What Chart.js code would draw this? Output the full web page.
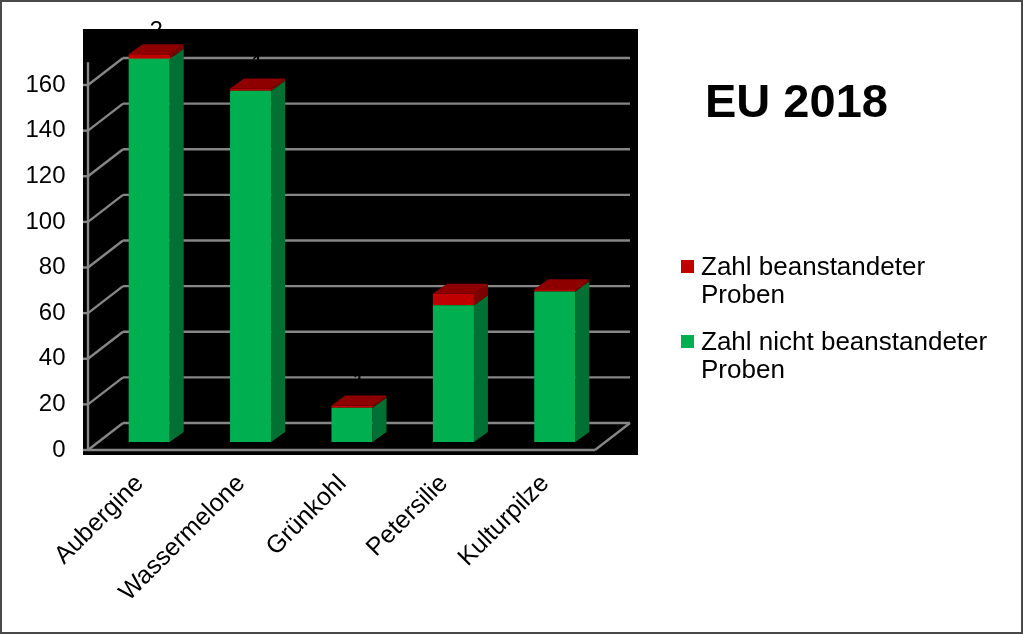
<!DOCTYPE html>
<html lang="de">
<head>
  <meta charset="UTF-8">
  <title>EU 2018</title>
  <style>
    body { margin: 0; background: #fff; font-family: "Liberation Sans", Arial, sans-serif; }
    #wrap { position: relative; width: 1023px; height: 635px; overflow: hidden; }
    #chart { position: absolute; left: 0; top: 0; }
    #frame { position: absolute; left: 0; top: 0; width: 1023px; height: 634px; box-sizing: border-box; border: 2px solid #4a4a4a; pointer-events: none; }
    #title { position: absolute; left: 705px; top: 77px; font-size: 47px; font-weight: bold; line-height: 1; color: #000; }
    #legend { position: absolute; left: 681px; top: 252px; }
    .item { position: relative; padding-left: 20px; width: 310px; font-size: 26px; line-height: 28px; color: #000; margin-bottom: 19px; }
    .item span { position: absolute; left: 0; top: 8px; width: 13px; height: 13px; }
  </style>
  <script src="https://cdn.jsdelivr.net/npm/chart.js"></script>
</head>
<body>
  <div id="wrap">
    <canvas id="chart" width="1023" height="635"></canvas>
    <div id="title">EU 2018</div>
    <div id="legend"></div>
    <div id="frame"></div>
  </div>

  <script>
    const categories = ["Aubergine", "Wassermelone", "Grünkohl", "Petersilie", "Kulturpilze"];
    const okSamples = [168, 154, 15, 60, 66];
    const badSamples = [2, 1, 1, 5, 1];
    const yMax = 160;
    const yStep = 20;

    // depth of the floor/walls and of the columns, in pixels
    const FRONT = { x: -10.5, y: 8 };
    const BACK = { x: 24.5, y: -19 };
    const BAR_DX = 14, BAR_DY = -10;

    function line(ctx, x1, y1, x2, y2) {
      ctx.beginPath();
      ctx.moveTo(x1, y1);
      ctx.lineTo(x2, y2);
      ctx.stroke();
    }

    function poly(ctx, pts) {
      ctx.beginPath();
      ctx.moveTo(pts[0][0], pts[0][1]);
      pts.slice(1).forEach(p => ctx.lineTo(p[0], p[1]));
      ctx.closePath();
      ctx.fill();
    }

    const frame3d = {
      id: "frame3d",
      beforeDraw(chart) {
        const { ctx, chartArea: a, scales: { y } } = chart;
        const y0 = y.getPixelForValue(0);
        ctx.save();
        ctx.fillStyle = "#000";
        ctx.fillRect(a.left - 15.5, a.top - 48, a.right - a.left + 48, y0 + 13 - (a.top - 48));
        ctx.restore();
      },
      beforeDatasetsDraw(chart) {
        const { ctx, chartArea: a, scales: { y } } = chart;
        const y0 = y.getPixelForValue(0);
        const fx = a.left + FRONT.x, bx = a.left + BACK.x;
        ctx.save();
        ctx.strokeStyle = "#868686";
        ctx.lineWidth = 2.4;
        y.ticks.forEach(t => {
          const py = y.getPixelForValue(t.value);
          line(ctx, fx - 5, py + FRONT.y, fx, py + FRONT.y);
          line(ctx, fx, py + FRONT.y, bx, py + BACK.y);
          line(ctx, bx, py + BACK.y, a.right + BACK.x, py + BACK.y);
        });
        // front value axis
        line(ctx, fx, y0 + FRONT.y, fx, y.getPixelForValue(yMax + 10) + FRONT.y);
        // floor
        line(ctx, fx, y0 + FRONT.y, a.right + FRONT.x, y0 + FRONT.y);
        line(ctx, a.right + FRONT.x, y0 + FRONT.y, a.right + BACK.x, y0 + BACK.y);
        ctx.restore();
      },
      afterDatasetsDraw(chart) {
        const { ctx } = chart;
        const sets = chart.data.datasets;
        ctx.save();
        sets.forEach((ds, i) => {
          const meta = chart.getDatasetMeta(i);
          const isTop = i === sets.length - 1;
          meta.data.forEach((bar, j) => {
            const { x, y, base, width } = bar.getProps(["x", "y", "base", "width"], true);
            const l = x - width / 2, r = x + width / 2;
            ctx.fillStyle = ds.sideColor;
            poly(ctx, [[r, y], [r + BAR_DX, y + BAR_DY], [r + BAR_DX, base + BAR_DY], [r, base]]);
            if (isTop) {
              ctx.fillStyle = ds.topColor;
              poly(ctx, [[l, y], [l + BAR_DX, y + BAR_DY], [r + BAR_DX, y + BAR_DY], [r, y]]);
              // value label (black)
              ctx.fillStyle = "#000";
              ctx.font = '24px "Liberation Sans", Arial, sans-serif';
              ctx.textAlign = "center";
              ctx.textBaseline = "alphabetic";
              ctx.fillText(ds.data[j], x + BAR_DX / 2, y + BAR_DY - 6);
            }
          });
        });
        ctx.restore();
      }
    };

    const datasets = [
      {
        label: "Zahl nicht beanstandeter Proben",
        data: okSamples,
        backgroundColor: "#00B050",
        sideColor: "#007033",
        topColor: "#008a3e"
      },
      {
        label: "Zahl beanstandeter Proben",
        data: badSamples,
        backgroundColor: "#C00000",
        sideColor: "#7d0000",
        topColor: "#8e0000"
      }
    ];

    const fontFamily = '"Liberation Sans", Arial, sans-serif';

    new Chart(document.getElementById("chart"), {
      type: "bar",
      data: { labels: categories, datasets: datasets },
      options: {
        responsive: false,
        animation: false,
        devicePixelRatio: 1,
        layout: { padding: { top: 77, right: 417.5, left: 0, bottom: 0 } },
        datasets: {
          bar: { categoryPercentage: 1, barPercentage: 0.405, borderWidth: 0, clip: false }
        },
        plugins: { legend: { display: false }, tooltip: { enabled: false } },
        scales: {
          x: {
            stacked: true,
            grid: { display: false, drawTicks: false },
            border: { display: false },
            ticks: {
              font: { family: fontFamily, size: 25 }, color: "#000", autoSkip: false,
              minRotation: 45, maxRotation: 45, padding: 27, labelOffset: -9.5
            },
            afterFit(s) { s.height = 193; s.paddingLeft = 0; s.paddingRight = 0; }
          },
          y: {
            stacked: true,
            min: 0,
            max: yMax,
            grid: { display: false, drawTicks: false },
            border: { display: false },
            ticks: { stepSize: yStep, font: { family: fontFamily, size: 24 }, color: "#000", padding: 33, labelOffset: 8 },
            afterFit(s) { s.width = 98.5; s.paddingTop = 0; s.paddingBottom = 0; }
          }
        }
      },
      plugins: [frame3d]
    });

    // legend, top series first
    const legend = document.getElementById("legend");
    datasets.slice().reverse().forEach(ds => {
      const item = document.createElement("div");
      item.className = "item";
      item.innerHTML = `<span style="background:${ds.backgroundColor}"></span>${ds.label}`;
      legend.appendChild(item);
    });
  </script>
</body>
</html>
